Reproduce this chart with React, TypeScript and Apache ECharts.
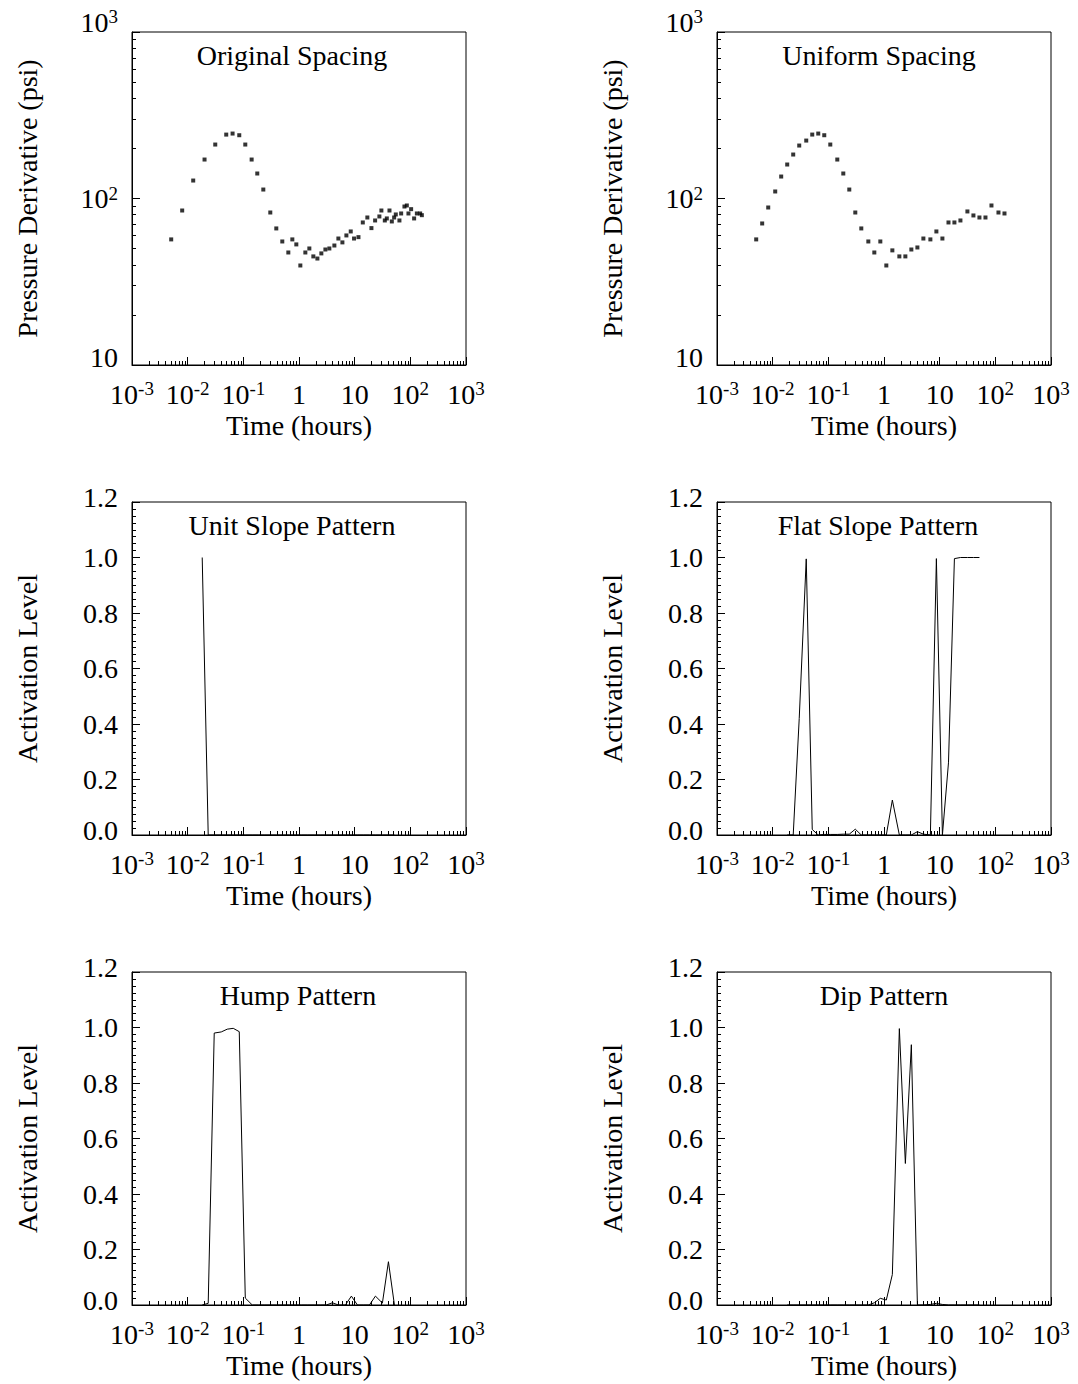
import React, { useEffect, useRef } from "react";
import * as echarts from "echarts";

// ---------------- DATA ----------------
const originalTime = [0.00506, 0.00797, 0.01258, 0.0201, 0.0313, 0.0493, 0.0641, 0.0845, 0.1084, 0.141, 0.178, 0.2285, 0.305, 0.391, 0.501, 0.643, 0.759, 0.895, 1.057, 1.3, 1.534, 1.81, 2.14, 2.52, 2.98, 3.51, 4.32, 5.1, 6.02, 7.1, 8.5, 9.75, 11.7, 14.0, 16.9, 20.0, 23.3, 27.8, 30.2, 34.8, 37.8, 42.2, 46.5, 51.2, 54.8, 63.7, 68.4, 78.4, 86.5, 92.5, 103.3, 117, 131, 150, 161];
const originalPressure = [56.8, 84.7, 128.2, 171.4, 210.9, 242, 245.5, 239.9, 210.9, 171.4, 141.3, 113.2, 82.4, 66.1, 55.2, 47.4, 56.8, 53.0, 39.6, 47.4, 50.1, 44.9, 43.6, 46.8, 49.4, 50.1, 52.2, 57.5, 54.5, 60.0, 63.4, 57.5, 58.6, 71.8, 76.9, 66.4, 73.8, 78.0, 84.7, 73.8, 75.9, 84.7, 72.8, 76.9, 80.2, 73.8, 81.3, 89.5, 90.8, 81.3, 86.3, 75.9, 81.3, 81.3, 79.4];

const uniformTime = [0.00506, 0.00648, 0.00832, 0.01111, 0.01423, 0.01825, 0.02339, 0.03, 0.0401, 0.0514, 0.0659, 0.0845, 0.1084, 0.1448, 0.1857, 0.2379, 0.305, 0.391, 0.523, 0.67, 0.859, 1.101, 1.413, 1.887, 2.42, 3.1, 3.98, 5.1, 6.81, 8.73, 11.2, 14.4, 18.4, 23.6, 31.5, 40.4, 51.8, 66.5, 85.2, 113.8, 146.0];
const uniformPressure = [56.8, 70.8, 88.3, 110.2, 135.5, 160.0, 183.7, 208.0, 222.8, 242.1, 245.5, 239.9, 210.9, 171.4, 141.3, 113.2, 82.4, 66.1, 55.2, 47.4, 55.2, 39.6, 48.8, 44.9, 44.9, 49.4, 50.8, 57.5, 56.8, 63.4, 57.5, 71.8, 71.8, 73.8, 83.6, 79.1, 76.9, 76.9, 90.8, 82.4, 81.3];

// pattern activations, evaluated at uniformTime[5] .. uniformTime[36]
const patternTime = uniformTime.slice(5, 37);
const unitSlope = [1.0, 0, 0, 0, 0, 0, 0, 0, 0, 0, 0, 0, 0, 0, 0, 0, 0, 0, 0, 0, 0, 0, 0, 0, 0, 0, 0, 0, 0, 0, 0, 0];
const flatSlope = [0, 0, 0.42, 0.995, 0.02, 0, 0.002, 0.002, 0.002, 0.003, 0.003, 0.021, 0, 0, 0, 0, 0, 0.126, 0, 0, 0, 0.012, 0.003, 0, 0.996, 0, 0.26, 0.996, 1.0, 1.0, 1.0, 1.0];
const hump = [0, 0.006, 0.98, 0.984, 0.994, 0.997, 0.985, 0.025, 0, 0, 0, 0, 0, 0, 0, 0, 0, 0, 0, 0, 0, 0.008, 0, 0, 0.032, 0, 0, 0, 0.032, 0.007, 0.156, 0];
const dip = [0, 0, 0, 0, 0, 0, 0, 0, 0, 0, 0, 0, 0, 0, 0.008, 0.024, 0.018, 0.11, 0.996, 0.51, 0.938, 0, 0, 0.002, 0.006, 0.002, 0, 0, 0, 0, 0, 0];

// tick labels
const xTickValues = [0.001, 0.01, 0.1, 1, 10, 100, 1000];
const xTickBase = ["10", "10", "10", "1", "10", "10", "10"];
const xTickExp = ["-3", "-2", "-1", "", "", "2", "3"];
const yLogTickValues = [10, 100, 1000];
const yLogTickBase = ["10", "10", "10"];
const yLogTickExp = ["", "2", "3"];

const titles = ["Original Spacing", "Uniform Spacing", "Unit Slope Pattern", "Flat Slope Pattern", "Hump Pattern", "Dip Pattern"];
const titleCenters = [292, 879, 292, 878, 298, 884];
const xName = "Time (hours)";
const yNames = ["Pressure Derivative (psi)", "Pressure Derivative (psi)", "Activation Level", "Activation Level", "Activation Level", "Activation Level"];

// ---------------- LAYOUT ----------------
const FONT = "'Liberation Serif','Times New Roman',Times,serif";
const FS = 28;
const SUP = 19;
const GRID_LEFT = [132, 717];
const GRID_TOP = [32, 502, 972];
const GRID_W = 334;
const GRID_H = 333;

const rich = {
  b: { fontSize: FS, fontFamily: FONT, lineHeight: 30, color: "#000" },
  s: { fontSize: SUP, fontFamily: FONT, lineHeight: 19, verticalAlign: "top", color: "#000" },
  g10: { fontSize: 4, lineHeight: 10, color: "#000" },
  g16: { fontSize: 4, lineHeight: 16, color: "#000" },
  g20: { fontSize: 4, lineHeight: 20, color: "#000" },
};

function xFormatter(v: number) {
  const k = Math.round(Math.log10(v));
  const idx = xTickValues.findIndex((t) => Math.round(Math.log10(t)) === k);
  if (idx < 0) return "";
  const exp = xTickExp[idx];
  return exp ? `{b|${xTickBase[idx]}}{s|${exp}}` : `{b|${xTickBase[idx]}}`;
}

function yLogFormatter(v: number) {
  const k = Math.round(Math.log10(v));
  const idx = yLogTickValues.findIndex((t) => Math.round(Math.log10(t)) === k);
  if (idx < 0) return "";
  const exp = yLogTickExp[idx];
  const main = exp ? `{b|${yLogTickBase[idx]}}{s|${exp}}` : `{b|${yLogTickBase[idx]}}`;
  if (idx === 0) return `${main}\n{g16| }`;
  if (idx === yLogTickValues.length - 1) return `${main}\n{g20| }`;
  return main;
}

function yLinFormatter(v: number) {
  const s = v.toFixed(1);
  if (Math.abs(v) < 1e-6 || Math.abs(v - 1.2) < 1e-6) return `{b|${s}}\n{g10| }`;
  return `{b|${s}}`;
}

const nameStyle = { fontSize: FS, fontFamily: FONT, color: "#000" };
const black = { color: "#000", width: 1 };

export default function App() {
  const ref = useRef<HTMLDivElement>(null);

  useEffect(() => {
    if (!ref.current) return;
    const chart = echarts.init(ref.current, null, { renderer: "svg" });

    const grids: any[] = [];
    const xAxes: any[] = [];
    const yAxes: any[] = [];
    const series: any[] = [];
    const graphics: any[] = [];

    const lineData = [unitSlope, flatSlope, hump, dip];

    for (let i = 0; i < 6; i++) {
      const row = Math.floor(i / 2);
      const col = i % 2;
      grids.push({
        left: GRID_LEFT[col],
        top: GRID_TOP[row],
        width: GRID_W,
        height: GRID_H,
        show: true,
        borderColor: "#000",
        borderWidth: 1,
        backgroundColor: "transparent",
      });
      xAxes.push({
        gridIndex: i,
        type: "log",
        logBase: 10,
        min: 0.001,
        max: 1000,
        splitNumber: 6,
        name: xName,
        nameLocation: "middle",
        nameGap: 46,
        nameTextStyle: nameStyle,
        axisLine: { show: true, onZero: false, lineStyle: black },
        axisTick: { show: true, inside: true, length: 8, lineStyle: black },
        minorTick: { show: true, splitNumber: 9, length: 4, lineStyle: black },
        splitLine: { show: false },
        minorSplitLine: { show: false },
        axisLabel: {
          show: true,
          interval: 0,
          margin: 14,
          hideOverlap: false,
          showMinLabel: true,
          showMaxLabel: true,
          formatter: xFormatter,
          rich,
        },
      });
      if (row === 0) {
        yAxes.push({
          gridIndex: i,
          type: "log",
          logBase: 10,
          min: 10,
          max: 1000,
          name: yNames[i],
          nameLocation: "middle",
          nameGap: 91,
          nameTextStyle: nameStyle,
          axisLine: { show: true, lineStyle: black },
          axisTick: { show: true, inside: true, length: 8, lineStyle: black },
          minorTick: { show: true, splitNumber: 9, length: 4, lineStyle: black },
          splitLine: { show: false },
          minorSplitLine: { show: false },
          axisLabel: {
            show: true,
            interval: 0,
            margin: 14,
            hideOverlap: false,
            showMinLabel: true,
            showMaxLabel: true,
            formatter: yLogFormatter,
            rich,
          },
        });
        const t = col === 0 ? originalTime : uniformTime;
        const p = col === 0 ? originalPressure : uniformPressure;
        series.push({
          type: "scatter",
          xAxisIndex: i,
          yAxisIndex: i,
          symbol: "rect",
          symbolSize: 4,
          itemStyle: { color: "#000" },
          data: t.map((x, k) => [x, p[k]]),
          silent: true,
        });
      } else {
        yAxes.push({
          gridIndex: i,
          type: "value",
          min: 0,
          max: 1.2,
          interval: 0.2,
          name: yNames[i],
          nameLocation: "middle",
          nameGap: 91,
          nameTextStyle: nameStyle,
          axisLine: { show: true, lineStyle: black },
          axisTick: { show: true, inside: true, length: 8, lineStyle: black },
          minorTick: { show: true, splitNumber: 8, length: 4, lineStyle: black },
          splitLine: { show: false },
          minorSplitLine: { show: false },
          axisLabel: {
            show: true,
            margin: 14,
            hideOverlap: false,
            showMinLabel: true,
            showMaxLabel: true,
            formatter: yLinFormatter,
            rich,
          },
        });
        const vals = lineData[i - 2];
        series.push({
          type: "line",
          xAxisIndex: i,
          yAxisIndex: i,
          showSymbol: false,
          symbol: "none",
          lineStyle: { color: "#000", width: 1 },
          data: patternTime.map((x, k) => [x, vals[k]]),
          silent: true,
        });
      }
      graphics.push({
        type: "text",
        x: titleCenters[i],
        y: GRID_TOP[row] + 9,
        style: {
          text: titles[i],
          fontSize: FS,
          fontFamily: FONT,
          fill: "#000",
          align: "center",
          textAlign: "center",
          verticalAlign: "top",
          textVerticalAlign: "top",
        },
      });
    }

    chart.setOption({
      animation: false,
      backgroundColor: "#fff",
      textStyle: { fontFamily: FONT, color: "#000" },
      grid: grids,
      xAxis: xAxes,
      yAxis: yAxes,
      series,
      graphic: graphics,
    });

    return () => {
      chart.dispose();
    };
  }, []);

  return (
    <div
      ref={ref}
      style={{ position: "absolute", left: 0, top: 0, width: 1078, height: 1384, background: "#fff" }}
    />
  );
}
